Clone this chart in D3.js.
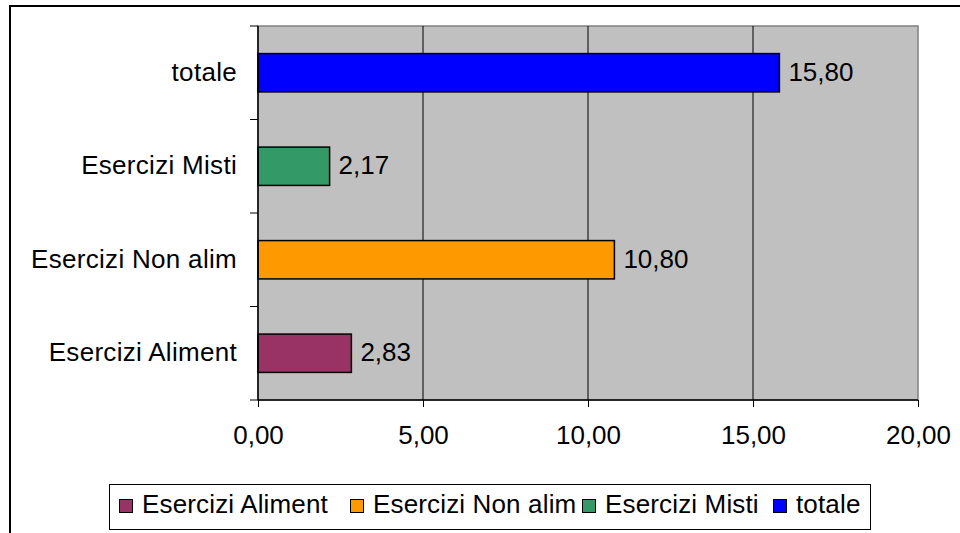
<!DOCTYPE html>
<html><head><meta charset="utf-8">
<script src="https://cdn.jsdelivr.net/npm/d3@7"></script>
<style>body{margin:0;background:#fff}svg{display:block}text{font-family:"Liberation Sans",Arial,sans-serif;fill:#000}</style>
</head><body>
<svg id="c" width="960" height="533"></svg>
<script>
const categories = ["totale", "Esercizi Misti", "Esercizi Non alim", "Esercizi Aliment"];
const values = [15.80, 2.17, 10.80, 2.83];
const colors = ["#0000FF", "#339966", "#FF9900", "#993366"];
const legendOrder = ["Esercizi Aliment", "Esercizi Non alim", "Esercizi Misti", "totale"];
const xTicks = [0, 5, 10, 15, 20];

const svg = d3.select("#c");
const fs = 26;
const fmt = v => d3.format(".2f")(v).replace(".", ",");

// outer frame
svg.append("rect").attr("x", 10).attr("y", 6).attr("width", 1000).attr("height", 600)
  .attr("fill", "#fff").attr("stroke", "#000").attr("stroke-width", 2);

const L = 258, R = 918, T = 26, B = 400;
const x = d3.scaleLinear().domain([0, 20]).range([L, R]);
const y = d3.scaleBand().domain(categories).range([T, B]).padding(0);
const bh = y.bandwidth() * 0.41;

// plot background
svg.append("rect").attr("x", L).attr("y", T).attr("width", R - L).attr("height", B - T)
  .attr("fill", "#C0C0C0").attr("stroke", "#808080").attr("stroke-width", 1.5);

// gridlines
svg.append("g").selectAll("line").data(xTicks.filter(d => d > 0 && d < 20)).join("line")
  .attr("x1", d => x(d)).attr("x2", d => x(d)).attr("y1", T).attr("y2", B)
  .attr("stroke", "#000").attr("stroke-width", 1);

// bars
svg.append("g").selectAll("rect").data(categories).join("rect")
  .attr("x", x(0)).attr("y", d => y(d) + (y.bandwidth() - bh) / 2)
  .attr("width", (d, i) => x(values[i]) - x(0)).attr("height", bh)
  .attr("fill", (d, i) => colors[i]).attr("stroke", "#000").attr("stroke-width", 1.5);

// value labels
svg.append("g").selectAll("text").data(categories).join("text")
  .attr("x", (d, i) => x(values[i]) + 9).attr("y", d => y(d) + y.bandwidth() / 2 + 8)
  .attr("font-size", fs).text((d, i) => fmt(values[i]));

// x axis
const xa = svg.append("g").attr("transform", `translate(0,${B})`)
  .call(d3.axisBottom(x).tickValues(xTicks).tickSize(7).tickFormat(fmt).tickPadding(15));
xa.select(".domain").attr("stroke", "#000").attr("stroke-width", 1.5).attr("d", `M${L},0H${R}`);
xa.selectAll(".tick line").attr("stroke", "#000");
xa.selectAll("text").attr("font-size", fs).attr("font-family", null).attr("dy", null).attr("y", 44).attr("fill", "#000");

// y axis
const ya = svg.append("g").attr("transform", `translate(${L},0)`);
ya.append("line").attr("x1", 0).attr("x2", 0).attr("y1", T).attr("y2", B).attr("stroke", "#000").attr("stroke-width", 1.5);
const bounds = categories.map(d => y(d)).concat([B]);
ya.selectAll("line.t").data(bounds).join("line").attr("class", "t")
  .attr("x1", -8).attr("x2", 0).attr("y1", d => d).attr("y2", d => d).attr("stroke", "#000");
svg.append("g").selectAll("text").data(categories).join("text")
  .attr("x", 237).attr("y", d => y(d) + y.bandwidth() / 2 + 8)
  .attr("text-anchor", "end").attr("font-size", fs).attr("letter-spacing", "0.3px").text(d => d);

// legend
svg.append("rect").attr("x", 109.5).attr("y", 484.5).attr("width", 761).attr("height", 45)
  .attr("fill", "#fff").attr("stroke", "#000").attr("stroke-width", 1);
const legX = [119, 350, 582, 773];
const lg = svg.append("g").selectAll("g").data(legendOrder).join("g")
  .attr("transform", (d, i) => `translate(${legX[i]},0)`);
lg.append("rect").attr("x", 0.5).attr("y", 499.5).attr("width", 13).attr("height", 13)
  .attr("fill", d => colors[categories.indexOf(d)]).attr("stroke", "#000").attr("stroke-width", 1);
lg.append("text").attr("x", 23).attr("y", 513).attr("font-size", fs).attr("letter-spacing", "0.15px").text(d => d);
</script>
</body></html>
